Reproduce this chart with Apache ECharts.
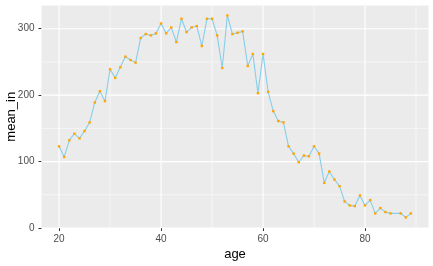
<!DOCTYPE html>
<html>
<head>
<meta charset="utf-8">
<script src="https://cdn.jsdelivr.net/npm/echarts@6/dist/echarts.min.js"></script>
<style>
html,body{margin:0;padding:0;background:#fff;}
#chart{width:433px;height:266px;}
</style>
</head>
<body>
<div id="chart"></div>
<script>
var ages = [20,21,22,23,24,25,26,27,28,29,30,31,32,33,34,35,36,37,38,39,
            40,41,42,43,44,45,46,47,48,49,50,51,52,53,54,55,56,57,58,59,
            60,61,62,63,64,65,66,67,68,69,70,71,72,73,74,75,76,77,78,79,
            80,81,82,83,84,85,87,88,89];
var meanIn = [123,107,132,142,135,146,159,189,206,191,239,226,242,258,253,249,286,292,290,293,
              308,293,302,280,315,295,302,304,274,315,315,290,241,320,292,294,296,244,262,203,
              262,205,176,161,159,123,112,99,109,108,123,112,68,85,73,63,40,34,33,49,
              34,42,22,30,24,22,22,16,22];
var xTicks = [20,40,60,80];
var yTicks = [0,100,200,300];
var xGridMajor = [20,40,60,80];
var xGridMinor = [30,50,70,90];
var yGridMajor = [0,100,200,300];
var yGridMinor = [50,150,250];

var X_MIN = 16.55, X_MAX = 92.45, Y_MIN = 0, Y_MAX = 335;
var pts = ages.map(function(a,i){return [a, meanIn[i]];});

function gridSeries(v, isX, w){
  return {
    type:'line', silent:true, z:1, symbol:'none', showSymbol:false, animation:false,
    lineStyle:{color:'#ffffff', width:w},
    data: isX ? [[v, Y_MIN],[v, Y_MAX]] : [[X_MIN, v],[X_MAX, v]]
  };
}
var series = [];
xGridMinor.forEach(function(v){series.push(gridSeries(v, true, 0.55));});
yGridMinor.forEach(function(v){series.push(gridSeries(v, false, 0.55));});
xGridMajor.forEach(function(v){series.push(gridSeries(v, true, 1.1));});
yGridMajor.forEach(function(v){series.push(gridSeries(v, false, 1.1));});
series.push({
  type:'line', data:pts, z:3, silent:true,
  symbol:'rect', symbolSize:2.4, showSymbol:true,
  lineStyle:{color:'#87CEEB', width:1.1},
  itemStyle:{color:'#FFA500'}
});

var chart = echarts.init(document.getElementById('chart'), null, {renderer:'canvas'});
chart.setOption({
  animation:false,
  backgroundColor:'#ffffff',
  grid:{left:41.5, right:4.5, top:5.5, bottom:38, show:true, backgroundColor:'#EBEBEB', borderWidth:0, containLabel:false, outerBoundsMode:'none'},
  xAxis:{
    type:'value', min:X_MIN, max:X_MAX,
    name:'age', nameLocation:'middle', nameGap:20, nameMoveOverlap:false,
    nameTextStyle:{fontFamily:'Liberation Sans', fontSize:13, color:'#000'},
    axisLine:{show:false},
    axisTick:{show:true, length:3, customValues:xTicks, lineStyle:{color:'#333', width:1}},
    axisLabel:{customValues:xTicks, margin:6, fontFamily:'Liberation Sans', fontSize:10, color:'#4D4D4D'},
    splitLine:{show:false}
  },
  yAxis:{
    type:'value', min:Y_MIN, max:Y_MAX,
    name:'mean_in', nameLocation:'middle', nameGap:24, nameRotate:90, nameMoveOverlap:false,
    nameTextStyle:{fontFamily:'Liberation Sans', fontSize:13, color:'#000'},
    axisLine:{show:false},
    axisTick:{show:true, length:3, customValues:yTicks, lineStyle:{color:'#333', width:1}},
    axisLabel:{customValues:yTicks, margin:7, fontFamily:'Liberation Sans', fontSize:10, color:'#4D4D4D'},
    splitLine:{show:false}
  },
  series:series
});
</script>
</body>
</html>
